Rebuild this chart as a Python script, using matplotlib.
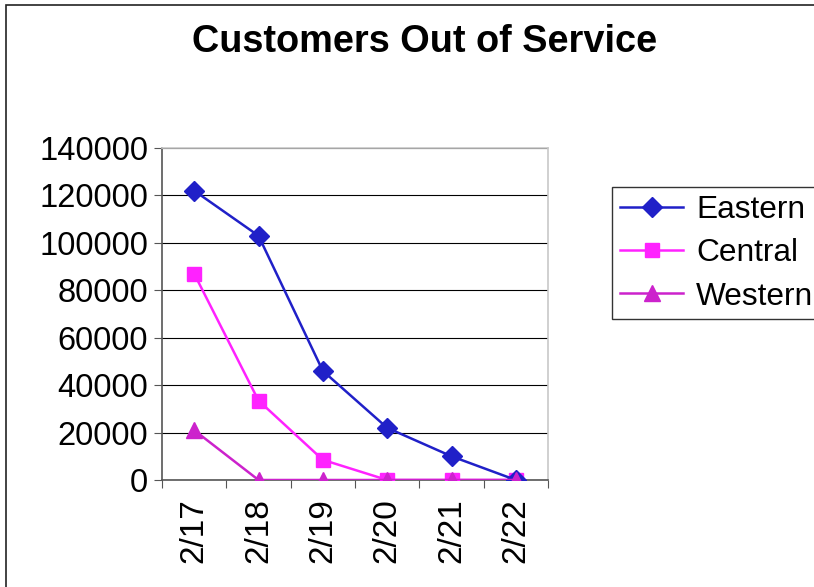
import numpy as np
import matplotlib.pyplot as plt
from matplotlib.patches import Rectangle

# data
dates = ['2/17', '2/18', '2/19', '2/20', '2/21', '2/22']
eastern = [122000, 103000, 46000, 22000, 10000, 0]
central = [87000, 33500, 8500, 0, 0, 0]
western = [21000, 0, 0, 0, 0, 0]

plt.rcParams['font.family'] = ['Liberation Sans', 'DejaVu Sans']

W, H = 814, 587
fig = plt.figure(figsize=(W / 100, H / 100), dpi=100)

# outer chart border (only left/top visible in the image)
fig.patches.append(Rectangle((6 / W, -0.1), 1.2, 1 - 5 / H + 0.1, transform=fig.transFigure,
                             fill=False, ec='#222222', lw=1.2))

ax = fig.add_axes([162 / W, (H - 480) / H, 386 / W, 332 / H])
x = np.arange(len(dates))

ax.plot(x, eastern, color='#2020c8', marker='D', markersize=10.5, lw=1.8, label='Eastern', zorder=5)
ax.plot(x, central, color='#ff22ff', marker='s', markersize=10, lw=1.8, label='Central', zorder=4)
ax.plot(x, western, color='#cc22cc', marker='^', markersize=12, lw=1.8, label='Western', zorder=6)

ax.set_xlim(-0.5, 5.5)
ax.set_ylim(0, 140000)
ax.set_yticks(np.arange(0, 140001, 20000))
ax.yaxis.grid(True, color='black', lw=0.8)
ax.set_axisbelow(True)
ax.tick_params(axis='y', labelsize=23.5, length=6, color='#555555', direction='out', pad=4)

ax.set_xticks(np.arange(-0.5, 6, 1))
ax.set_xticklabels([])
ax.set_xticks(x, minor=True)
ax.set_xticklabels(dates, minor=True, rotation=90, fontsize=24)
ax.tick_params(axis='x', which='major', length=6, color='#555555', direction='out')
ax.tick_params(axis='x', which='minor', length=0, pad=13)

for s in ['left', 'bottom']:
    ax.spines[s].set_color('#555555')
    ax.spines[s].set_linewidth(1.2)
for s in ['top', 'right']:
    ax.spines[s].set_color('#c8c8c8')
    ax.spines[s].set_linewidth(1.2)

fig.text(425 / W, 1 - 42 / H, 'Customers Out of Service', ha='center', va='center',
         fontsize=27.3, fontweight='bold')

leg = fig.legend(loc='upper left', bbox_to_anchor=(612 / W, 1 - 187 / H), fontsize=22.8,
                 frameon=True, fancybox=False, edgecolor='black', handlelength=2.0,
                 borderpad=0.25, labelspacing=0.42, handletextpad=0.4, borderaxespad=0)
leg.get_frame().set_linewidth(1.0)

fig.savefig('out.png', dpi=100)
